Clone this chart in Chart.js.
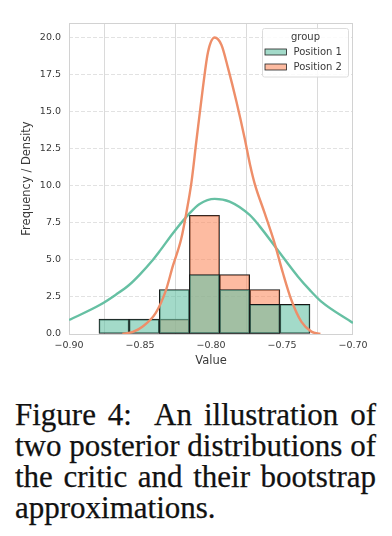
<!DOCTYPE html>
<html><head><meta charset="utf-8">
<script src="https://cdn.jsdelivr.net/npm/chart.js@4.4.0/dist/chart.umd.min.js"></script>
<style>
html,body{margin:0;padding:0;background:#fff;}
#wrap{position:relative;width:392px;height:536px;overflow:hidden;background:#fff;}
#c{position:absolute;left:0;top:0;}
#cap{position:absolute;left:15px;top:399px;width:361px;font-family:"Liberation Serif","Times New Roman",serif;font-size:31px;line-height:31px;color:#111;-webkit-text-stroke:0.25px #111;}
#cap div{text-align:justify;text-align-last:justify;white-space:nowrap;}
#cap div.last{text-align-last:left;}
</style></head><body>
<div id="wrap">
<canvas id="c" width="392" height="380"></canvas>
<div id="cap">
<div>Figure 4:&nbsp; An illustration of</div>
<div>two posterior distributions of</div>
<div>the critic and their bootstrap</div>
<div class="last">approximations.</div>
</div>
</div>
<script>
// ---- data ----
const groups = ['Position 1', 'Position 2'];
const binEdges = [-0.8789, -0.8577, -0.8364, -0.8152, -0.7940, -0.7727, -0.7515, -0.7303];
const pos1Counts = [1, 1, 3, 4, 3, 2, 2];
const pos2Counts = [0, 0, 1, 8, 4, 3, 0];

const kde1X = [-0.900, -0.8784, -0.867, -0.8577, -0.850, -0.8413, -0.836, -0.8268, -0.815, -0.808, -0.7974, -0.7869, -0.7728, -0.7657, -0.754, -0.7387, -0.7305, -0.7223, -0.700];
const kde1Y = [0.94, 1.95, 2.65, 3.30, 4.02, 4.95, 5.60, 6.79, 8.14, 8.76, 9.10, 8.92, 8.02, 7.25, 5.78, 3.86, 2.97, 2.18, 0.74];

const kde2X = [-0.8624, -0.855, -0.8483, -0.839, -0.8319, -0.8268, -0.8210, -0.8174, -0.8138, -0.8103, -0.8057, -0.8021, -0.7974, -0.7927, -0.788, -0.7821, -0.7763, -0.7725, -0.7693, -0.7622, -0.7552, -0.7493, -0.7434, -0.7364, -0.7293, -0.7230];
const kde2Y = [0.0, 0.15, 0.49, 1.40, 2.90, 4.60, 6.40, 8.14, 10.2, 13.0, 16.6, 19.0, 19.97, 19.48, 17.91, 15.66, 13.19, 11.4, 10.15, 8.14, 6.11, 4.09, 2.29, 0.83, 0.16, 0.0];

const xTicks = [-0.90, -0.85, -0.80, -0.75, -0.70];
const yTicks = [0, 2.5, 5, 7.5, 10, 12.5, 15, 17.5, 20];
const xRange = [-0.90, -0.70];
const yRange = [0, 20.95];
const xTitle = 'Value';
const yTitle = 'Frequency / Density';
const legendTitle = 'group';

// ---- styling ----
const fill1 = 'rgba(102,194,165,0.6)';
const fill2 = 'rgba(252,141,98,0.6)';
const line1 = '#66c0a3';
const line2 = '#ee8e69';
const FONT = '"DejaVu Sans", Verdana, sans-serif';
const TXT = '#3a3a3a';

const centers = binEdges.slice(0, -1).map((e, i) => (e + binEdges[i + 1]) / 2);
const toBars = counts => centers.map((c, i) => ({x: c, y: counts[i] === 0 ? null : counts[i]}));
const toLine = (xs, ys) => xs.map((x, i) => ({x: x, y: ys[i]}));
const fmtX = v => (v < 0 ? '\u2212' : '') + Math.abs(v).toFixed(2);

const framePlugin = {
  id: 'frame',
  beforeDatasetsDraw(chart) {
    const a = chart.chartArea, ctx = chart.ctx;
    ctx.save();
    ctx.strokeStyle = '#d2d2d2';
    ctx.lineWidth = 1;
    ctx.strokeRect(a.left + 0.5, a.top + 0.5, a.right - a.left - 1, a.bottom - a.top);
    ctx.restore();
  }
};

const legendPlugin = {
  id: 'innerLegend',
  afterDraw(chart) {
    const a = chart.chartArea, ctx = chart.ctx;
    const w = 86, h = 48.5;
    const x0 = a.right - 5 - w, y0 = a.top + 5;
    ctx.save();
    ctx.fillStyle = 'rgba(255,255,255,0.85)';
    ctx.strokeStyle = '#dcdcdc';
    ctx.lineWidth = 1;
    ctx.beginPath();
    if (ctx.roundRect) ctx.roundRect(x0 + 0.5, y0 + 0.5, w, h, 2); else ctx.rect(x0 + 0.5, y0 + 0.5, w, h);
    ctx.fill(); ctx.stroke();
    ctx.fillStyle = TXT;
    ctx.font = '10px ' + FONT;
    ctx.textBaseline = 'middle';
    ctx.textAlign = 'center';
    ctx.fillText(legendTitle, x0 + w / 2 + 0.5, y0 + 9);
    const fills = [fill1, fill2];
    const rows = [y0 + 24, y0 + 39];
    ctx.textAlign = 'left';
    groups.forEach((g, i) => {
      ctx.fillStyle = '#fff';
      ctx.fillRect(x0 + 3, rows[i] - 3, 21.5, 6);
      ctx.fillStyle = fills[i];
      ctx.fillRect(x0 + 3, rows[i] - 3, 21.5, 6);
      ctx.strokeStyle = '#222';
      ctx.lineWidth = 0.8;
      ctx.strokeRect(x0 + 3, rows[i] - 3, 21.5, 6);
      ctx.fillStyle = TXT;
      ctx.fillText(g, x0 + 31.5, rows[i] + 0.5);
    });
    ctx.restore();
  }
};

new Chart(document.getElementById('c'), {
  type: 'bar',
  data: {
    datasets: [
      {type: 'line', label: groups[1] + ' KDE', data: toLine(kde2X, kde2Y), borderColor: line2, borderWidth: 2.4, pointRadius: 0, fill: false, cubicInterpolationMode: 'monotone', order: 0},
      {type: 'line', label: groups[0] + ' KDE', data: toLine(kde1X, kde1Y), borderColor: line1, borderWidth: 2.4, pointRadius: 0, fill: false, cubicInterpolationMode: 'monotone', order: 1},
      {type: 'bar', label: groups[0], data: toBars(pos1Counts), backgroundColor: fill1, borderColor: '#151515', borderWidth: 0.9, borderSkipped: false, barPercentage: 1, categoryPercentage: 1, grouped: false, order: 2},
      {type: 'bar', label: groups[1], data: toBars(pos2Counts), backgroundColor: fill2, borderColor: '#151515', borderWidth: 0.9, borderSkipped: false, barPercentage: 1, categoryPercentage: 1, grouped: false, order: 3}
    ]
  },
  options: {
    responsive: false,
    animation: false,
    devicePixelRatio: 1,
    layout: {padding: {left: 0, right: 39, top: 23, bottom: 0}},
    plugins: {legend: {display: false}, tooltip: {enabled: false}},
    scales: {
      x: {
        type: 'linear', min: xRange[0], max: xRange[1], offset: false,
        afterBuildTicks: s => { s.ticks = xTicks.map(v => ({value: v})); },
        afterFit: s => { s.height = 46; },
        ticks: {callback: v => fmtX(v), font: {family: FONT, size: 9.5}, color: TXT, padding: 6, maxRotation: 0, autoSkip: false},
        grid: {color: '#dadada', lineWidth: 1, drawTicks: false},
        border: {display: false},
        title: {display: true, text: xTitle, font: {family: FONT, size: 11.5}, color: TXT, padding: {top: 0, bottom: 12}}
      },
      y: {
        min: yRange[0], max: yRange[1],
        afterBuildTicks: s => { s.ticks = yTicks.map(v => ({value: v})); },
        afterFit: s => { s.width = 69; },
        ticks: {callback: v => v.toFixed(1), font: {family: FONT, size: 9.5}, color: TXT, padding: 8, autoSkip: false},
        grid: {color: '#e2e2e2', lineWidth: 1, drawTicks: false},
        border: {display: false, dash: [4, 2]},
        title: {display: true, text: yTitle, font: {family: FONT, size: 11.5}, color: TXT, padding: {top: 20, bottom: 0}}
      }
    }
  },
  plugins: [framePlugin, legendPlugin]
});
</script>
</body></html>
